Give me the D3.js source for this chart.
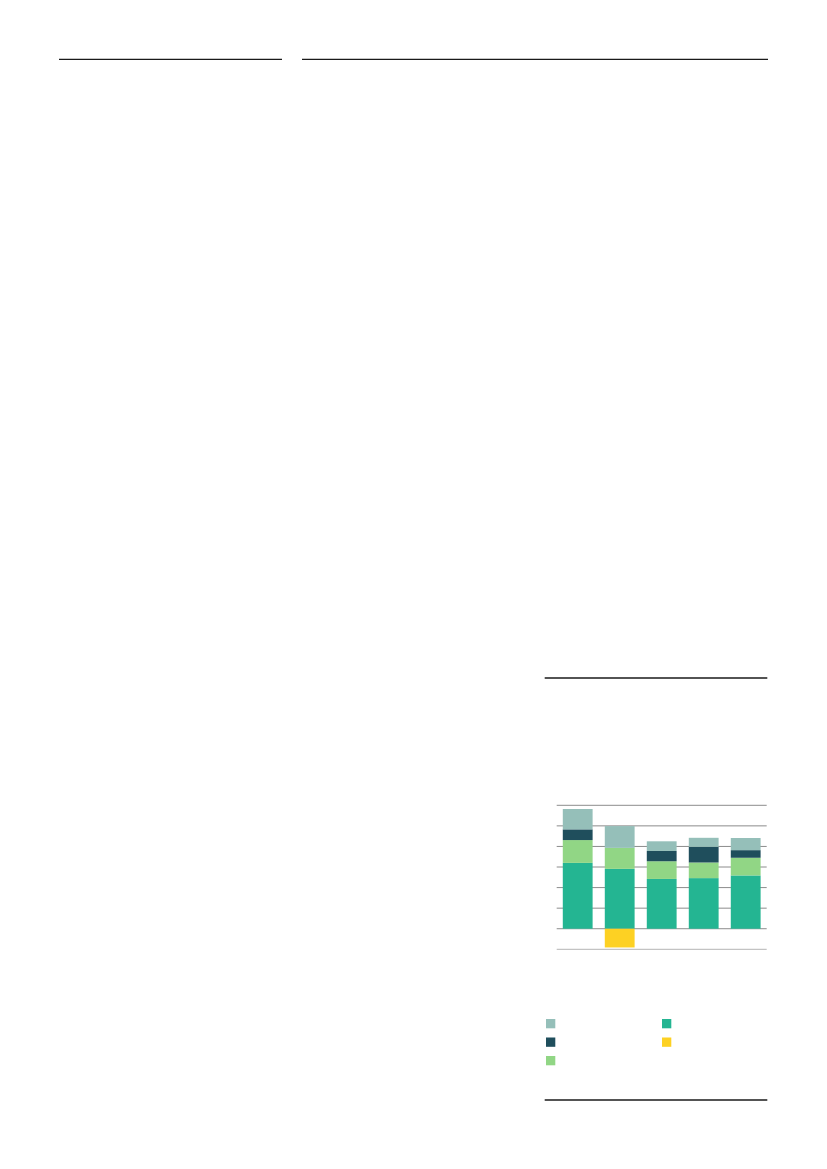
<!DOCTYPE html>
<html>
<head>
<meta charset="utf-8">
<script src="https://cdn.jsdelivr.net/npm/d3@7"></script>
<style>
  html, body { margin: 0; padding: 0; background: #fff; }
  svg { display: block; }
</style>
</head>
<body>
<svg id="page" width="827" height="1169"></svg>
<script>
// chart data (no labels are printed on it)
var categories = ["1", "2", "3", "4", "5"];
var seriesNames = ["teal", "green", "navy", "grey", "yellow"];
var teal   = [3.20, 2.91, 2.42, 2.46, 2.59];
var green  = [1.11, 1.02, 0.86, 0.76, 0.86];
var navy   = [0.52, 0.00, 0.50, 0.76, 0.37];
var grey   = [0.99, 1.06, 0.47, 0.44, 0.59];
var yellow = [0.00, -0.91, 0.00, 0.00, 0.00];
var yTicks = [0, 1, 2, 3, 4, 5, 6];

var colors = {"teal": "#24b592", "green": "#91d685", "navy": "#1f4e5c", "grey": "#95bfb9", "yellow": "#fdd123"};

// legend columns: left column then right column
var legendLeft = ["grey", "navy", "green"];
var legendRight = ["teal", "yellow"];

var svg = d3.select("#page");

// page rules
function rule(x1, x2, y)
{
	svg.append("line")
		.attr("x1", x1).attr("x2", x2)
		.attr("y1", y).attr("y2", y)
		.attr("stroke", "#1a1a1a")
		.attr("stroke-width", 1.3);
}
rule(59, 282, 59.3);
rule(302, 768, 59.3);
rule(544.7, 767.3, 678);
rule(544.7, 767.3, 1100);

// chart
var left = 556.7, right = 766.7;

var x = d3.scaleBand()
		.domain(categories)
		.range([left, right])
		.paddingInner(0.29)
		.paddingOuter(0.145);

var y = d3.scaleLinear()
		.domain([-1, 6])
		.range([949.3, 805.3]);

var g = svg.append("g");

// gridlines
g.selectAll("line.grid")
	.data(yTicks)
	.enter()
	.append("line")
	.attr("class", "grid")
	.attr("x1", left).attr("x2", right)
	.attr("y1", function(d) { return y(d); })
	.attr("y2", function(d) { return y(d); })
	.attr("stroke", "#8c8c8c")
	.attr("stroke-width", 1);

// bottom axis line
g.append("line")
	.attr("x1", left).attr("x2", right)
	.attr("y1", y(-1)).attr("y2", y(-1))
	.attr("stroke", "#b4b4b4")
	.attr("stroke-width", 1);

// stack the positive series, negative one hangs below zero
var rows = categories.map(function(c, i) {
	return {"cat": c, "teal": teal[i], "green": green[i], "navy": navy[i], "grey": grey[i], "yellow": yellow[i]};
});

var stack = d3.stack()
		.keys(seriesNames)
		.offset(d3.stackOffsetDiverging);

var layers = stack(rows);

g.selectAll("g.layer")
	.data(layers)
	.enter()
	.append("g")
	.attr("class", "layer")
	.attr("fill", function(d) { return colors[d.key]; })
	.selectAll("rect")
	.data(function(d) { return d; })
	.enter()
	.append("rect")
	.attr("x", function(d) { return x(d.data.cat); })
	.attr("width", x.bandwidth())
	.attr("y", function(d) { return y(Math.max(d[0], d[1])); })
	.attr("height", function(d) { return Math.abs(y(d[0]) - y(d[1])); });

// legend
function legendColumn(keys, lx)
{
	svg.selectAll(null)
		.data(keys)
		.enter()
		.append("rect")
		.attr("x", lx)
		.attr("y", function(d, i) { return 1019 + i * 18.5; })
		.attr("width", 9.3)
		.attr("height", 9.3)
		.attr("fill", function(d) { return colors[d]; });
}
legendColumn(legendLeft, 546);
legendColumn(legendRight, 662);
</script>
</body>
</html>
